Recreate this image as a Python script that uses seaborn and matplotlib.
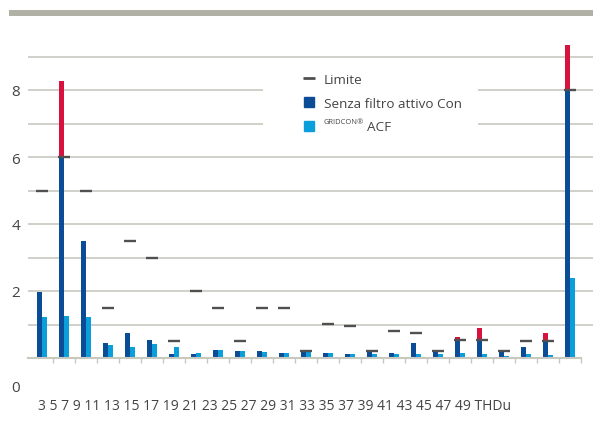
import numpy as np
import pandas as pd
import seaborn as sns
import matplotlib.pyplot as plt
from matplotlib.lines import Line2D
from matplotlib.patches import Rectangle

# harmonic order and values (%)
armoniche = ['3', '5', '7', '9', '11', '13', '15', '17', '19', '21', '23', '25', '27',
             '29', '31', '33', '35', '37', '39', '41', '43', '45', '47', '49', 'THDu']
senza_filtro = [1.98, 8.26, 3.48, 0.46, 0.76, 0.55, 0.13, 0.13, 0.25, 0.22, 0.22, 0.16, 0.18,
                0.16, 0.13, 0.18, 0.16, 0.46, 0.18, 0.64, 0.91, 0.18, 0.34, 0.76, 9.35]
gridcon_acf = [1.21, 1.24, 1.21, 0.38, 0.34, 0.43, 0.34, 0.16, 0.25, 0.22, 0.19, 0.16, 0.18,
               0.16, 0.13, 0.13, 0.13, 0.13, 0.13, 0.16, 0.13, 0.07, 0.13, 0.10, 2.39]
limite = [5, 6, 5, 1.5, 3.5, 3, 0.5, 2, 1.5, 0.5, 1.5, 1.5, 0.2,
          1.02, 0.97, 0.2, 0.82, 0.74, 0.2, 0.55, 0.55, 0.2, 0.5, 0.5, 8]

blu_scuro = '#0B4C97'
blu_chiaro = '#0A9EDB'
rosso = '#D7123F'
grigio_limite = '#505050'
grigio_griglia = '#C9C8BF'
grigio_testo = '#444444'

sns.set_theme(style='white')
plt.rcParams['font.family'] = ['Open Sans', 'DejaVu Sans']

W, H = 593, 439


def fx(x):
    return x / W


def fy(y):
    return 1 - y / H


n = len(armoniche)
serie = ['senza'] * n + ['acf'] * n
df_tot = pd.DataFrame({'armonica': armoniche * 2, 'serie': serie,
                       'valore': senza_filtro + gridcon_acf})
# part of each bar that stays under the limit is blue, the rest shows red
senza_entro = list(np.minimum(senza_filtro, limite))
df_entro = pd.DataFrame({'armonica': armoniche * 2, 'serie': serie,
                         'valore': senza_entro + gridcon_acf})

fig = plt.figure(figsize=(W / 100, H / 100), dpi=100)
ax = fig.add_axes([fx(28), fy(359), 1 - fx(28), 9.6 * 33.5 / H])

sns.barplot(data=df_tot, x='armonica', y='valore', hue='serie', order=armoniche,
            hue_order=['senza', 'acf'], palette={'senza': rosso, 'acf': blu_chiaro},
            width=0.46, saturation=1, errorbar=None, legend=False, linewidth=0, ax=ax)
sns.barplot(data=df_entro, x='armonica', y='valore', hue='serie', order=armoniche,
            hue_order=['senza', 'acf'], palette={'senza': blu_scuro, 'acf': blu_chiaro},
            width=0.46, saturation=1, errorbar=None, legend=False, linewidth=0, ax=ax)

pos = np.arange(n)
ax.hlines(limite, pos - 0.27, pos + 0.27, colors=grigio_limite, lw=1.7, zorder=5)

ax.set_xlim(-0.636, -0.636 + 565 / 22)
ax.set_ylim(0, 9.6)
ax.set_xticks(pos + 0.5, [''] * n)
ax.set_yticks(range(1, 10), ['' if v % 2 else str(v) for v in range(1, 10)])
ax.tick_params(axis='x', bottom=True, length=3.5, width=1, color=grigio_griglia, direction='out')
ax.tick_params(axis='y', length=0, pad=5.8, labelsize=11, labelcolor=grigio_testo)
ax.set_xlabel('')
ax.set_ylabel('')
ax.yaxis.grid(True, color=grigio_griglia, lw=1.2)
ax.set_axisbelow(True)
for s in ['left', 'top', 'right']:
    ax.spines[s].set_visible(False)
ax.spines['bottom'].set_color(grigio_griglia)
ax.spines['bottom'].set_linewidth(1.5)
ax.spines['bottom'].set_bounds(-0.64, n - 0.5)

# white box behind the legend that cuts the gridlines
ax.add_patch(Rectangle((fx(263), fy(150)), fx(478) - fx(263), 88 / H,
                       transform=fig.transFigure, facecolor='white', edgecolor='none', zorder=0.8))

handles = [
    Line2D([], [], color=grigio_limite, marker='_', linestyle='None', markersize=9, markeredgewidth=2),
    Line2D([], [], color=blu_scuro, marker='s', linestyle='None', markersize=7),
    Line2D([], [], color=blu_chiaro, marker='s', linestyle='None', markersize=7),
]
labels = ['Limite', 'Senza filtro attivo Con', 'ACF']
leg = fig.legend(handles, labels, loc='upper left', bbox_to_anchor=(fx(295), fy(67)),
                 frameon=False, borderpad=0, handlelength=1.1, handletextpad=0.55,
                 labelspacing=0.8, fontsize=9.7, labelcolor=grigio_testo)

# small raised brand name in front of "ACF": push "ACF" right and put it in the gap
fig.canvas.draw()
testo_acf = leg.get_texts()[2]
bb = testo_acf.get_window_extent()
marchio = fig.text(bb.x0 / W, (bb.y0 + 3.2 + 6.7) / H, 'GRIDCON®', fontsize=5.4,
                   color=grigio_testo, ha='left', va='baseline')
fig.canvas.draw()
testo_acf.set_x(marchio.get_window_extent().width + 3)

# grey band at the top
fig.add_artist(Rectangle((fx(9), fy(16.8)), 1 - fx(9), 6.2 / H, transform=fig.transFigure,
                         facecolor='#B2B1A6', edgecolor='none'))

fig.text(fx(20), fy(389), '0', ha='right', va='center', fontsize=11, color=grigio_testo)
fig.text(fx(38), fy(407), ' '.join(armoniche), ha='left', va='center', fontsize=10,
         color=grigio_testo)

fig.savefig('out.png', dpi=100)
